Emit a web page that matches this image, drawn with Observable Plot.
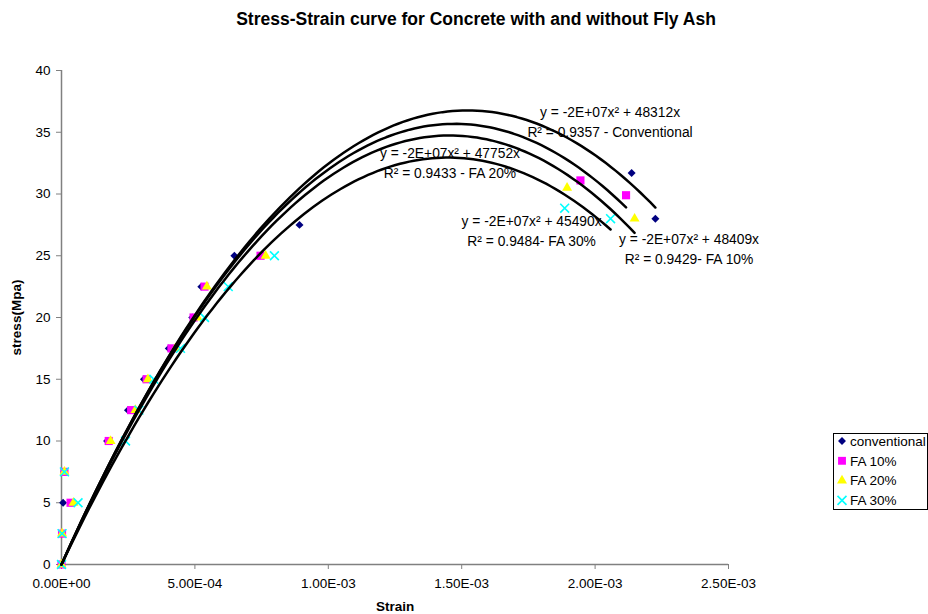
<!DOCTYPE html>
<html><head><meta charset="utf-8">
<script src="https://cdn.jsdelivr.net/npm/d3@7"></script>
<script src="https://cdn.jsdelivr.net/npm/@observablehq/plot@0.6"></script>
<style>
body{margin:0;background:#fff}
svg{font-family:"Liberation Sans",Arial,sans-serif}
</style>
</head><body><div id="chart"></div>
<script>
const chartTitle = "Stress-Strain curve for Concrete with and without Fly Ash";
const xLabel = "Strain";
const yLabel = "stress(Mpa)";
const seriesNames = ["conventional", "FA 10%", "FA 20%", "FA 30%"];
const seriesColors = ["#000080", "#FF00FF", "#FFFF00", "#00FFFF"];

const strainConventional = [0, 0.000002, 0.000006, 0.000010, 0.000171, 0.000249, 0.000309, 0.000402, 0.000490, 0.000524, 0.000648, 0.000892, 0.002137, 0.002226];
const stressConventional = [0, 2.5, 5, 7.5, 10, 12.5, 15, 17.5, 20, 22.5, 25, 27.5, 31.7, 28.0];

const strainFA10 = [0, 0.000002, 0.000034, 0.000011, 0.000177, 0.000261, 0.000319, 0.000412, 0.000495, 0.000536, 0.000746, 0.001945, 0.002116];
const stressFA10 = [0, 2.5, 5, 7.5, 10, 12.5, 15, 17.5, 20, 22.5, 25, 31.1, 29.9];

const strainFA20 = [0, 0.000002, 0.000045, 0.000011, 0.000184, 0.000277, 0.000324, 0.000427, 0.000510, 0.000545, 0.000765, 0.001895, 0.002148];
const stressFA20 = [0, 2.5, 5, 7.5, 10, 12.5, 15, 17.5, 20, 22.5, 25, 30.5, 28.0];

const strainFA30 = [0, 0.000002, 0.000062, 0.000011, 0.000240, 0.000290, 0.000346, 0.000446, 0.000536, 0.000625, 0.000798, 0.001886, 0.002058];
const stressFA30 = [0, 2.5, 5, 7.5, 10, 12.5, 15, 17.5, 20, 22.5, 25, 28.85, 28.0];

// trendline y = -a x^2 + b x  (b from the labels, a estimated from the drawn curves)
const trendA = [1.587e7, 1.642e7, 1.641e7, 1.570e7];
const trendB = [48312, 48409, 47752, 45490];
const trendLabels = [
  "y = -2E+07x² + 48312x\nR² = 0.9357 - Conventional",
  "y = -2E+07x² + 48409x\nR² = 0.9429- FA 10%",
  "y = -2E+07x² + 47752x\nR² = 0.9433 - FA 20%",
  "y = -2E+07x² + 45490x\nR² = 0.9484- FA 30%"
];
const labelStrain = [0.002056, 0.002352, 0.001456, 0.001762];
const labelStress = [35.97, 25.67, 32.63, 27.1];

const xTicks = [0, 0.0005, 0.001, 0.0015, 0.002, 0.0025];
const yTicks = [0, 5, 10, 15, 20, 25, 30, 35, 40];

const strains = [strainConventional, strainFA10, strainFA20, strainFA30];
const stresses = [stressConventional, stressFA10, stressFA20, stressFA30];

const points = [];
strains.forEach((xs, i) => xs.forEach((x, j) => points.push({series: seriesNames[i], strain: x, stress: stresses[i][j]})));

const trend = [];
strains.forEach((xs, i) => {
  const xmax = d3.max(xs);
  const n = 120;
  for (let k = 0; k <= n; k++) {
    const x = xmax * k / n;
    trend.push({series: seriesNames[i], strain: x, stress: -trendA[i] * x * x + trendB[i] * x});
  }
});
const labels = trendLabels.map((t, i) => ({text: t, strain: labelStrain[i], stress: labelStress[i]}));

const fmtX = d => d === 0 ? "0.00E+00" : d.toExponential(2).toUpperCase().replace(/E([+-])(\d)$/, "E$10$2");

const symbols = ["diamond2", "square", "triangle", "times"];
const radii = [3.6, 4.6, 3.7, 4.1];

const dotMarks = seriesNames.map((name, i) => Plot.dot(points.filter(p => p.series === name), {
  x: "strain", y: "stress", symbol: () => symbols[i], r: radii[i],
  fill: i === 3 ? "none" : seriesColors[i],
  stroke: i === 3 ? seriesColors[i] : "none",
  strokeWidth: i === 3 ? 1.6 : 0
}));

const plot = Plot.plot({
  width: 928, height: 614,
  marginLeft: 61, marginRight: 200, marginTop: 70, marginBottom: 50,
  style: {fontFamily: "'Liberation Sans', Arial, sans-serif", fontSize: "13.5px", background: "#fff", overflow: "visible"},
  x: {domain: [0, 0.0025], ticks: xTicks, tickFormat: fmtX},
  y: {domain: [0, 40], ticks: yTicks},
  symbol: {type: "identity"},
  marks: [
    Plot.axisX({ticks: xTicks, tickFormat: fmtX, tickSize: 5, tickPadding: 9, stroke: "#808080", fontSize: 13.5, label: xLabel, labelAnchor: "center", labelOffset: 46}),
    Plot.axisY({ticks: yTicks, tickSize: 5, tickPadding: 6, stroke: "#808080", fontSize: 13.5, label: yLabel, labelAnchor: "center", labelOffset: 50}),
    Plot.ruleX([0], {stroke: "#808080", strokeWidth: 1.5}),
    Plot.ruleY([0], {stroke: "#808080", strokeWidth: 1.5}),
    ...dotMarks,
    Plot.line(trend, {x: "strain", y: "stress", z: "series", stroke: "#000", strokeWidth: 2.5, curve: "linear"}),
    Plot.text(labels, {x: "strain", y: "stress", text: "text", fontSize: 13.8, lineHeight: 1.45, fill: "#000", textAnchor: "middle"})
  ]
});

const svg = d3.select(plot);
svg.selectAll("[aria-label='x-axis label'] text").attr("font-weight", "bold").attr("font-size", 13.5).text(xLabel);
svg.selectAll("[aria-label='y-axis label'] text").attr("font-weight", "bold").attr("font-size", 13.5).text(yLabel);
svg.selectAll("[aria-label='x-axis tick label'] text, [aria-label='y-axis tick label'] text").attr("fill", "#000");

// title
svg.append("text").attr("x", 476).attr("y", 24.5).attr("text-anchor", "middle")
  .attr("font-size", 17.5).attr("font-weight", "bold").attr("fill", "#000").text(chartTitle);

// legend
const lg = svg.append("g").attr("transform", "translate(833.5,433.5)");
lg.append("rect").attr("width", 94).attr("height", 76).attr("fill", "#fff").attr("stroke", "#000").attr("stroke-width", 1);
const legSyms = [d3.symbolDiamond2, d3.symbolSquare, d3.symbolTriangle, d3.symbolTimes];
const legSizes = [40, 62, 43, 54];
seriesNames.forEach((name, i) => {
  const yy = 7.5 + i * 19.8;
  lg.append("path").attr("transform", `translate(8.5,${yy})`).attr("d", d3.symbol(legSyms[i], legSizes[i])())
    .attr("fill", i === 3 ? "none" : seriesColors[i])
    .attr("stroke", i === 3 ? seriesColors[i] : "none").attr("stroke-width", 1.6);
  lg.append("text").attr("x", 16.5).attr("y", yy).attr("dy", "0.35em").attr("text-anchor", "start")
    .attr("font-size", 13.5).attr("fill", "#000").text(name);
});

document.getElementById("chart").appendChild(plot);
</script>
</body></html>
